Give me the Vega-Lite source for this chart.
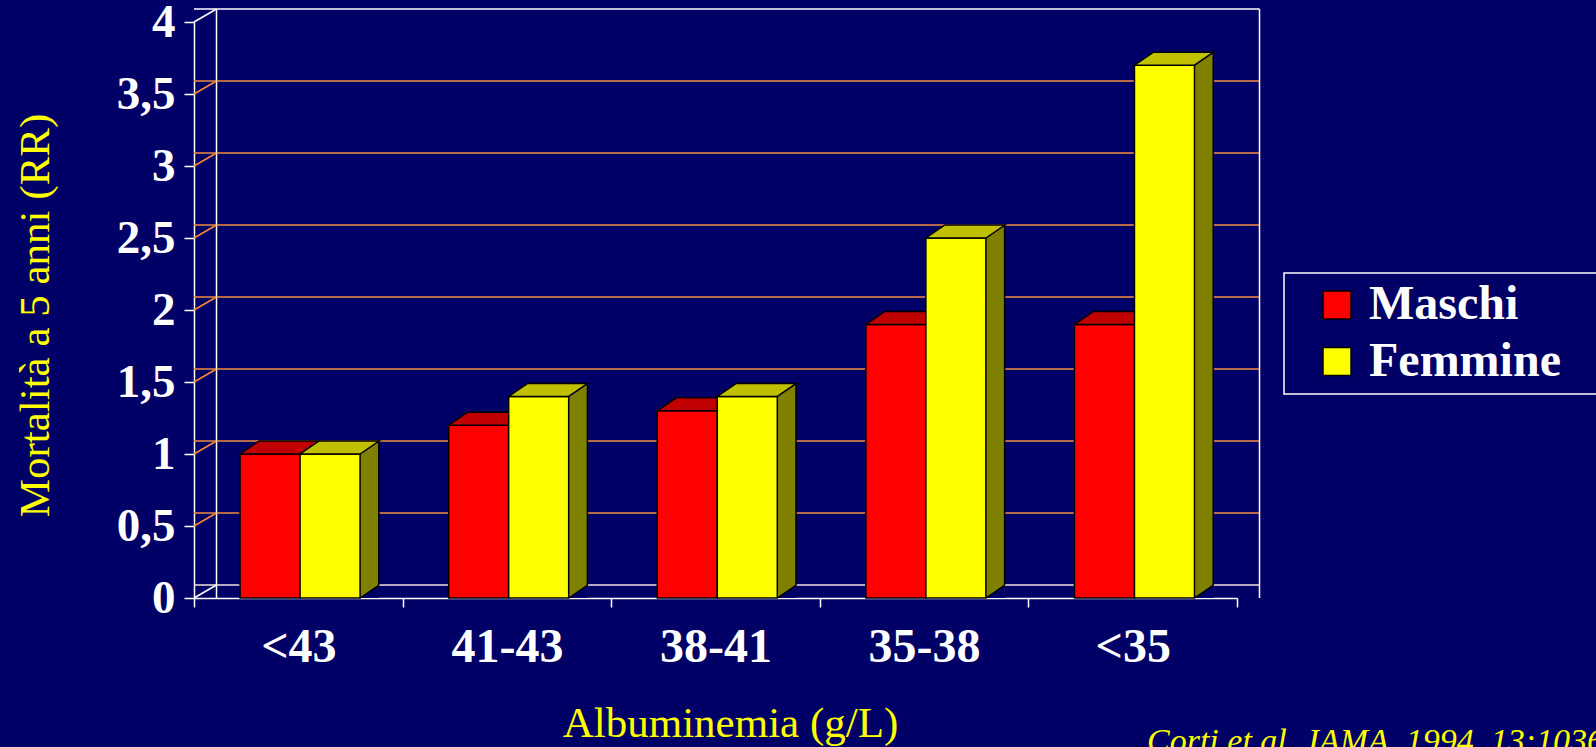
{
  "$schema": "https://vega.github.io/schema/vega-lite/v6.json",
  "width": 1043,
  "height": 576,
  "autosize": {"type": "none"},
  "padding": {"left": 194, "top": 22, "right": 359, "bottom": 149},
  "background": "#000066",
  "config": {"view": {"stroke": null}, "font": "Liberation Serif", "legend": {"strokeWidth": 1.5}},
  "title": {
    "text": "Corti et al. JAMA, 1994, 13:1036",
    "orient": "bottom",
    "anchor": "end",
    "frame": "group",
    "align": "left",
    "baseline": "alphabetic",
    "dx": -90,
    "dy": 3,
    "font": "Liberation Serif",
    "fontSize": 34,
    "fontStyle": "italic",
    "fontWeight": "normal",
    "color": "#FFFF00"
  },
  "datasets": {
    "bars": [
      {"cat": "<43", "sex": "Maschi", "rr": 1.0},
      {"cat": "<43", "sex": "Femmine", "rr": 1.0},
      {"cat": "41-43", "sex": "Maschi", "rr": 1.2},
      {"cat": "41-43", "sex": "Femmine", "rr": 1.4},
      {"cat": "38-41", "sex": "Maschi", "rr": 1.3},
      {"cat": "38-41", "sex": "Femmine", "rr": 1.4},
      {"cat": "35-38", "sex": "Maschi", "rr": 1.9},
      {"cat": "35-38", "sex": "Femmine", "rr": 2.5},
      {"cat": "<35", "sex": "Maschi", "rr": 1.9},
      {"cat": "<35", "sex": "Femmine", "rr": 3.7}
    ],
    "grid": [
      {"v": 0}, {"v": 0.5}, {"v": 1}, {"v": 1.5}, {"v": 2},
      {"v": 2.5}, {"v": 3}, {"v": 3.5}, {"v": 4}
    ]
  },
  "layer": [
    {
      "data": {"name": "grid"},
      "mark": {"type": "rule", "xOffset": 22.5, "x2Offset": 22.5, "yOffset": -13, "strokeWidth": 1.5},
      "encoding": {
        "y": {
          "field": "v", "type": "quantitative",
          "scale": {"domain": [0, 4], "nice": false, "zero": true},
          "axis": {
            "values": [0, 0.5, 1, 1.5, 2, 2.5, 3, 3.5, 4],
            "format": "~g",
            "labelExpr": "replace(datum.label, '.', ',')",
            "grid": false,
            "domainColor": "white", "domainWidth": 1.5,
            "tickColor": "white", "tickWidth": 1.5, "tickSize": 10,
            "labelColor": "white", "labelFont": "Liberation Serif", "labelFontSize": 47,
            "labelFontWeight": "bold", "labelPadding": 9, "labelBaseline": "middle",
            "labelBound": false, "labelFlush": false,
            "title": "Mortalità a 5 anni (RR)",
            "titleColor": "#FFFF00", "titleFont": "Liberation Serif", "titleFontSize": 43,
            "titleFontWeight": "normal", "titleAngle": -90, "titleX": -146, "titleY": 293,
            "titleAlign": "center", "titleBaseline": "alphabetic"
          }
        },
        "stroke": {
          "condition": [
            {"test": "datum.v == 4", "value": "white"},
            {"test": "datum.v == 0", "value": "#F0E2E2"}
          ],
          "value": "#F08C3C"
        }
      }
    },
    {
      "data": {"name": "grid"},
      "transform": [{"filter": "datum.v == 0"}],
      "mark": {"type": "rule", "xOffset": 22.5, "yOffset": -13, "y2Offset": -13, "color": "white", "strokeWidth": 1.5},
      "encoding": {
        "x": {"datum": "<43", "type": "nominal", "bandPosition": 0,
              "scale": {"domain": ["<43", "41-43", "38-41", "35-38", "<35"], "paddingInner": 0, "paddingOuter": 0}}
      }
    },
    {
      "data": {"name": "grid"},
      "transform": [{"filter": "datum.v == 0"}],
      "mark": {"type": "rule", "xOffset": 22.5, "yOffset": -13, "y2Offset": -13, "color": "white", "strokeWidth": 1.5},
      "encoding": {
        "x": {"datum": "<35", "type": "nominal", "bandPosition": 1,
              "scale": {"domain": ["<43", "41-43", "38-41", "35-38", "<35"], "paddingInner": 0, "paddingOuter": 0}}
      }
    },
    {
      "data": {"name": "grid"},
      "mark": {"type": "point", "shape": "M0,0 L22.5,-13", "size": 4, "filled": false, "opacity": 1, "strokeWidth": 1.5},
      "encoding": {
        "x": {"datum": "<43", "type": "nominal", "bandPosition": 0,
              "scale": {"domain": ["<43", "41-43", "38-41", "35-38", "<35"], "paddingInner": 0, "paddingOuter": 0}},
        "y": {"field": "v", "type": "quantitative", "scale": {"domain": [0, 4], "nice": false}},
        "stroke": {
          "condition": [
            {"test": "datum.v == 4", "value": "white"},
            {"test": "datum.v == 0", "value": "white"}
          ],
          "value": "#F08C3C"
        }
      }
    },
    {
      "data": {"name": "bars"},
      "transform": [{"filter": "datum.sex == 'Maschi'"}],
      "mark": {"type": "bar", "stroke": "black", "strokeWidth": 1.5},
      "encoding": {
        "x": {
          "field": "cat", "type": "nominal",
          "scale": {"domain": ["<43", "41-43", "38-41", "35-38", "<35"], "paddingInner": 0, "paddingOuter": 0},
          "axis": {
            "tickBand": "extent",
            "domainColor": "white", "domainWidth": 1.5,
            "tickColor": "white", "tickWidth": 1.5, "tickSize": 9,
            "labelColor": "white", "labelFont": "Liberation Serif", "labelFontSize": 48,
            "labelFontWeight": "bold", "labelAngle": 0, "labelAlign": "center",
            "labelPadding": 54, "labelBaseline": "alphabetic",
            "title": "Albuminemia (g/L)",
            "titleColor": "#FFFF00", "titleFont": "Liberation Serif", "titleFontSize": 43,
            "titleFontWeight": "normal", "titleX": 536, "titleY": 138,
            "titleAlign": "center", "titleBaseline": "alphabetic"
          }
        },
        "xOffset": {"field": "sex", "type": "nominal", "scale": {"domain": ["Maschi", "Femmine"], "paddingInner": 0, "paddingOuter": 0.738, "align": 0.52}},
        "y": {"field": "rr", "type": "quantitative", "stack": null, "scale": {"domain": [0, 4], "nice": false}},
        "color": {
          "field": "sex", "type": "nominal",
          "scale": {"domain": ["Maschi", "Femmine"], "range": ["#FF0000", "#FFFF00"]},
          "legend": {
            "orient": "none", "legendX": 1090, "legendY": 251,
            "title": null,
            "symbolType": "square", "symbolSize": 784,
            "symbolStrokeColor": "black", "symbolStrokeWidth": 1.5, "symbolOpacity": 1,
            "symbolOffset": 21, "labelOffset": 8,
            "labelFont": "Liberation Serif", "labelFontSize": 48, "labelFontWeight": "bold",
            "labelColor": "white", "labelLimit": 400,
            "labelExpr": "datum.label + '\u2800'",
            "padding": 8, "rowPadding": 8.5,
            "strokeColor": "white", "fillColor": "#000066"
          }
        }
      }
    },
    {
      "data": {"name": "bars"},
      "transform": [{"filter": "datum.sex == 'Maschi'"}],
      "mark": {"type": "point", "shape": "M-30,0 L30,0 L49,-13 L-11,-13 Z", "size": 4, "filled": true, "opacity": 1,
               "fill": "#C00000", "stroke": "black", "strokeWidth": 1.5},
      "encoding": {
        "x": {"field": "cat", "type": "nominal", "scale": {"domain": ["<43", "41-43", "38-41", "35-38", "<35"], "paddingInner": 0, "paddingOuter": 0}},
        "xOffset": {"field": "sex", "type": "nominal", "scale": {"domain": ["Maschi", "Femmine"], "paddingInner": 0, "paddingOuter": 0.738, "align": 0.52}},
        "y": {"field": "rr", "type": "quantitative", "scale": {"domain": [0, 4], "nice": false}}
      }
    },
    {
      "data": {"name": "bars"},
      "transform": [{"filter": "datum.sex == 'Femmine'"}],
      "mark": {"type": "bar", "width": 19, "xOffset": 71, "yOffset": -13, "fill": "#808000", "strokeWidth": 0},
      "encoding": {
        "x": {"field": "cat", "type": "nominal", "scale": {"domain": ["<43", "41-43", "38-41", "35-38", "<35"], "paddingInner": 0, "paddingOuter": 0}},
        "y": {"field": "rr", "type": "quantitative", "stack": null, "scale": {"domain": [0, 4], "nice": false}}
      }
    },
    {
      "data": {"name": "bars"},
      "transform": [{"filter": "datum.sex == 'Femmine'"}],
      "mark": {"type": "point", "shape": "M30,0 L49,-13 L49,0 Z", "size": 4, "filled": true, "opacity": 1,
               "fill": "#000066", "strokeWidth": 0},
      "encoding": {
        "x": {"field": "cat", "type": "nominal", "scale": {"domain": ["<43", "41-43", "38-41", "35-38", "<35"], "paddingInner": 0, "paddingOuter": 0}},
        "xOffset": {"field": "sex", "type": "nominal", "scale": {"domain": ["Maschi", "Femmine"], "paddingInner": 0, "paddingOuter": 0.738, "align": 0.52}},
        "y": {"datum": 0, "type": "quantitative", "scale": {"domain": [0, 4], "nice": false}}
      }
    },
    {
      "data": {"name": "bars"},
      "transform": [{"filter": "datum.sex == 'Femmine'"}],
      "mark": {"type": "point", "shape": "M30,0 L49,-13", "size": 4, "filled": false, "opacity": 1,
               "stroke": "black", "strokeWidth": 1.5},
      "encoding": {
        "x": {"field": "cat", "type": "nominal", "scale": {"domain": ["<43", "41-43", "38-41", "35-38", "<35"], "paddingInner": 0, "paddingOuter": 0}},
        "xOffset": {"field": "sex", "type": "nominal", "scale": {"domain": ["Maschi", "Femmine"], "paddingInner": 0, "paddingOuter": 0.738, "align": 0.52}},
        "y": {"datum": 0, "type": "quantitative", "scale": {"domain": [0, 4], "nice": false}}
      }
    },
    {
      "data": {"name": "bars"},
      "transform": [{"filter": "datum.sex == 'Femmine'"}],
      "mark": {"type": "rule", "xOffset": 80.5, "yOffset": -13, "y2Offset": -13, "stroke": "black", "strokeWidth": 1.5},
      "encoding": {
        "x": {"field": "cat", "type": "nominal", "scale": {"domain": ["<43", "41-43", "38-41", "35-38", "<35"], "paddingInner": 0, "paddingOuter": 0}},
        "y": {"field": "rr", "type": "quantitative", "scale": {"domain": [0, 4], "nice": false}},
        "y2": {"datum": 0}
      }
    },
    {
      "data": {"name": "bars"},
      "transform": [{"filter": "datum.sex == 'Femmine'"}],
      "mark": {"type": "bar", "stroke": "black", "strokeWidth": 1.5},
      "encoding": {
        "x": {"field": "cat", "type": "nominal", "scale": {"domain": ["<43", "41-43", "38-41", "35-38", "<35"], "paddingInner": 0, "paddingOuter": 0}},
        "xOffset": {"field": "sex", "type": "nominal", "scale": {"domain": ["Maschi", "Femmine"], "paddingInner": 0, "paddingOuter": 0.738, "align": 0.52}},
        "y": {"field": "rr", "type": "quantitative", "stack": null, "scale": {"domain": [0, 4], "nice": false}},
        "color": {"field": "sex", "type": "nominal", "scale": {"domain": ["Maschi", "Femmine"], "range": ["#FF0000", "#FFFF00"]}}
      }
    },
    {
      "data": {"name": "bars"},
      "transform": [{"filter": "datum.sex == 'Femmine'"}],
      "mark": {"type": "point", "shape": "M-30,0 L30,0 L49,-13 L-11,-13 Z", "size": 4, "filled": true, "opacity": 1,
               "fill": "#C0C000", "stroke": "black", "strokeWidth": 1.5},
      "encoding": {
        "x": {"field": "cat", "type": "nominal", "scale": {"domain": ["<43", "41-43", "38-41", "35-38", "<35"], "paddingInner": 0, "paddingOuter": 0}},
        "xOffset": {"field": "sex", "type": "nominal", "scale": {"domain": ["Maschi", "Femmine"], "paddingInner": 0, "paddingOuter": 0.738, "align": 0.52}},
        "y": {"field": "rr", "type": "quantitative", "scale": {"domain": [0, 4], "nice": false}}
      }
    }
  ]
}
